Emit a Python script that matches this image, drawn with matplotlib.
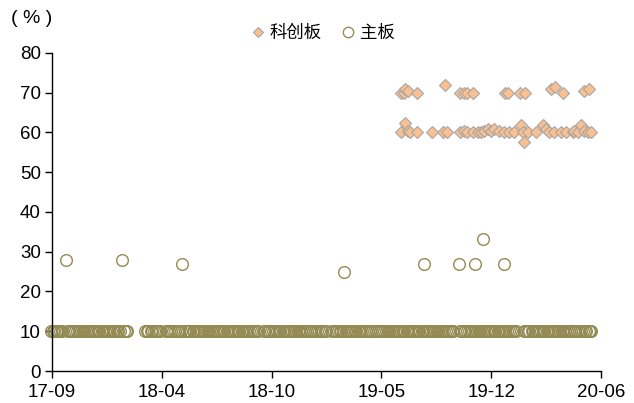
import matplotlib
matplotlib.use("Agg")
import matplotlib.pyplot as plt
import matplotlib.dates as mdates
import numpy as np
import pandas as pd
from matplotlib.lines import Line2D

# ---- data -------------------------------------------------------------
# 主板: listing dates with ratio 10%
main_base_dates = [
    "2017-09-10", "2017-09-12", "2017-09-14", "2017-09-18", "2017-09-20",
    "2017-09-22", "2017-09-26", "2017-09-29", "2017-10-10", "2017-10-13",
    "2017-10-17", "2017-10-20", "2017-10-24", "2017-10-27", "2017-10-31",
    "2017-11-03", "2017-11-07", "2017-11-10", "2017-11-14", "2017-11-17",
    "2017-11-21", "2017-11-24", "2017-11-28", "2017-12-01", "2017-12-05",
    "2017-12-08", "2017-12-12", "2017-12-15", "2017-12-19", "2017-12-22",
    "2017-12-26", "2017-12-29", "2018-01-02", "2018-01-05", "2018-01-09",
    "2018-01-12", "2018-01-16", "2018-01-23", "2018-01-26", "2018-01-29",
    "2018-03-03", "2018-03-06", "2018-03-09", "2018-03-13", "2018-03-16",
    "2018-03-20", "2018-03-23", "2018-03-27", "2018-03-30", "2018-04-10",
    "2018-04-13", "2018-04-17", "2018-04-20", "2018-04-24", "2018-04-27",
    "2018-05-02", "2018-05-05", "2018-05-09", "2018-05-16", "2018-05-19",
    "2018-05-23", "2018-05-26", "2018-05-30", "2018-06-02", "2018-06-06",
    "2018-06-09", "2018-06-13", "2018-06-16", "2018-06-20", "2018-06-23",
    "2018-06-27", "2018-06-30", "2018-07-04", "2018-07-07", "2018-07-11",
    "2018-07-14", "2018-07-18", "2018-07-21", "2018-07-25", "2018-07-28",
    "2018-08-01", "2018-08-04", "2018-08-08", "2018-08-11", "2018-08-15",
    "2018-08-18", "2018-08-22", "2018-08-25", "2018-08-29", "2018-09-01",
    "2018-09-05", "2018-09-08", "2018-09-12", "2018-09-15", "2018-09-19",
    "2018-09-22", "2018-09-26", "2018-09-29", "2018-10-09", "2018-10-12",
    "2018-10-16", "2018-10-19", "2018-10-23", "2018-10-26", "2018-10-30",
    "2018-11-02", "2018-11-06", "2018-11-09", "2018-11-13", "2018-11-16",
    "2018-11-20", "2018-11-23", "2018-11-27", "2018-11-30", "2018-12-04",
    "2018-12-07", "2018-12-11", "2018-12-14", "2018-12-18", "2018-12-21",
    "2018-12-25", "2018-12-28", "2019-01-02", "2019-01-05", "2019-01-09",
    "2019-01-12", "2019-01-16", "2019-01-19", "2019-01-23", "2019-01-26",
    "2019-01-30", "2019-02-02", "2019-02-13", "2019-02-16", "2019-02-20",
    "2019-02-23", "2019-02-27", "2019-03-02", "2019-03-06", "2019-03-10",
    "2019-03-13", "2019-03-16", "2019-03-20", "2019-03-23", "2019-03-27",
    "2019-03-30", "2019-04-03", "2019-04-06", "2019-04-10", "2019-04-13",
    "2019-04-17", "2019-04-20", "2019-04-24", "2019-04-27", "2019-05-06",
    "2019-05-09", "2019-05-13", "2019-05-16", "2019-05-20", "2019-05-23",
    "2019-05-27", "2019-05-30", "2019-06-03", "2019-06-06", "2019-06-10",
    "2019-06-13", "2019-06-17", "2019-06-20", "2019-06-24", "2019-06-27",
    "2019-07-01", "2019-07-04", "2019-07-08", "2019-07-11", "2019-07-15",
    "2019-07-18", "2019-07-22", "2019-07-25", "2019-07-29", "2019-08-01",
    "2019-08-05", "2019-08-08", "2019-08-12", "2019-08-15", "2019-08-19",
    "2019-08-22", "2019-08-26", "2019-08-29", "2019-09-02", "2019-09-05",
    "2019-09-09", "2019-09-12", "2019-09-16", "2019-09-19", "2019-09-23",
    "2019-09-26", "2019-10-08", "2019-10-11", "2019-10-15", "2019-10-18",
    "2019-10-22", "2019-10-25", "2019-10-29", "2019-11-01", "2019-11-05",
    "2019-11-08", "2019-11-12", "2019-11-15", "2019-11-19", "2019-11-22",
    "2019-11-26", "2019-11-29", "2019-12-03", "2019-12-06", "2019-12-10",
    "2019-12-13", "2019-12-17", "2019-12-20", "2019-12-24", "2019-12-27",
    "2019-12-31", "2020-01-03", "2020-01-07", "2020-01-10", "2020-01-14",
    "2020-01-17", "2020-01-21", "2020-02-04", "2020-02-07", "2020-02-11",
    "2020-02-14", "2020-02-18", "2020-02-21", "2020-02-25", "2020-02-28",
    "2020-03-03", "2020-03-06", "2020-03-10", "2020-03-13", "2020-03-17",
    "2020-03-20", "2020-03-24", "2020-03-27", "2020-03-31", "2020-04-03",
    "2020-04-07", "2020-04-10", "2020-04-14", "2020-04-17", "2020-04-21",
    "2020-04-24", "2020-04-28", "2020-05-01", "2020-05-06", "2020-05-09",
    "2020-05-13", "2020-05-16", "2020-05-20", "2020-05-23", "2020-05-27",
    "2020-05-30", "2020-06-03", "2020-06-06", "2020-06-08",
]
# 主板: listings with a higher ratio
main_high_dates = [
    "2017-10-07", "2018-01-19", "2018-05-11", "2019-03-07", "2019-08-03",
    "2019-10-06", "2019-11-06", "2019-11-20", "2019-12-28",
]
main_high_values = [28, 28, 27, 25, 27, 27, 27, 33.3, 27]

main_dates = main_base_dates + main_high_dates
main_values = [10] * len(main_base_dates) + main_high_values

# 科创板: listing dates and ratio (%)
star_dates = [
    # upper group
    "2019-06-20", "2019-06-26", "2019-06-29", "2019-07-03", "2019-07-21",
    "2019-09-11", "2019-10-09", "2019-10-15", "2019-10-22", "2019-11-01",
    "2019-12-30", "2020-01-05", "2020-01-27", "2020-02-06", "2020-03-25",
    "2020-04-02", "2020-04-17", "2020-05-26", "2020-06-04",
    # lower group
    "2019-06-20", "2019-06-29", "2019-07-03", "2019-07-08", "2019-07-21",
    "2019-08-18", "2019-09-07", "2019-09-15", "2019-10-09", "2019-10-15",
    "2019-10-22", "2019-11-01", "2019-11-10", "2019-11-16", "2019-11-21",
    "2019-11-29", "2019-12-04", "2019-12-10", "2019-12-19", "2019-12-28",
    "2020-01-07", "2020-01-16", "2020-01-29", "2020-02-02", "2020-02-04",
    "2020-02-11", "2020-02-26", "2020-03-10", "2020-03-16", "2020-03-21",
    "2020-03-31", "2020-04-13", "2020-04-22", "2020-05-05", "2020-05-07",
    "2020-05-15", "2020-05-20", "2020-05-26", "2020-06-01", "2020-06-08",
]
star_values = [
    70, 70, 71, 70.5, 70,
    72, 70, 70, 70, 70,
    70, 70, 70, 70, 71,
    71.5, 70, 70.5, 71,
    60, 62.5, 60.5, 60, 60,
    60, 60, 60, 60, 60.5,
    60, 60, 60, 60, 60.5,
    61, 60.5, 61, 60.5, 60,
    60, 60, 62, 60, 57.5,
    60, 60, 62, 61, 60,
    60, 60, 60, 60, 60.5,
    60, 62, 60.5, 60, 60,
]

x_tick_labels = ["17-09", "18-04", "18-10", "19-05", "19-12", "20-06"]
x_start, x_end = "2017-09-11", "2020-06-26"
y_ticks = [0, 10, 20, 30, 40, 50, 60, 70, 80]

# ---- style ------------------------------------------------------------
num_font = ["Liberation Sans", "DejaVu Sans"]
cjk_font = ["Noto Sans CJK SC", "DejaVu Sans"]
plt.rcParams["font.family"] = num_font

star_face = "#FAC090"
star_edge = "#A6A6A6"
main_edge = "#948A54"

fig = plt.figure(figsize=(6.34, 4.03), dpi=100)
ax = fig.add_axes([0.082, 0.0794, 0.866, 0.7891])

main_x = mdates.date2num(pd.to_datetime(main_dates))
star_x = mdates.date2num(pd.to_datetime(star_dates))

ax.plot(main_x, main_values, linestyle="none", marker="o", markersize=8.4,
        markerfacecolor="none", markeredgecolor=main_edge, markeredgewidth=1.0,
        zorder=2, clip_on=False)
ax.plot(star_x, star_values, linestyle="none", marker="D", markersize=6.6,
        markerfacecolor=star_face, markeredgecolor=star_edge, markeredgewidth=0.8,
        zorder=3, clip_on=False)

x0 = mdates.date2num(pd.Timestamp(x_start))
x1 = mdates.date2num(pd.Timestamp(x_end))
ax.set_xlim(x0, x1)
ax.set_xticks(np.linspace(x0, x1, len(x_tick_labels)))
ax.set_xticklabels(x_tick_labels)
ax.set_ylim(0, 80)
ax.set_yticks(y_ticks)

for side in ("top", "right"):
    ax.spines[side].set_visible(False)
for side in ("left", "bottom"):
    ax.spines[side].set_color("black")
    ax.spines[side].set_linewidth(1.0)

ax.tick_params(axis="both", direction="out", length=5, width=1.0,
               colors="black", labelsize=13.5, pad=3)
ax.tick_params(axis="x", pad=4)
for lbl in ax.get_xticklabels() + ax.get_yticklabels():
    lbl.set_family(num_font)

# unit label
fig.text(0.018, 0.953, "( % )", fontsize=14, family=num_font,
         ha="left", va="center")

# legend
handles = [
    Line2D([], [], linestyle="none", marker="D", markersize=5.5,
           markerfacecolor=star_face, markeredgecolor=star_edge,
           markeredgewidth=0.8),
    Line2D([], [], linestyle="none", marker="o", markersize=7.5,
           markerfacecolor="none", markeredgecolor=main_edge,
           markeredgewidth=0.95),
]
fig.legend(handles, ["科创板", "主板"], loc="center", bbox_to_anchor=(0.508, 0.918),
           ncol=2, frameon=False, prop={"family": cjk_font, "size": 12.5},
           handletextpad=0.2, columnspacing=1.0, handlelength=1.0)

fig.savefig("out.png", dpi=100)
